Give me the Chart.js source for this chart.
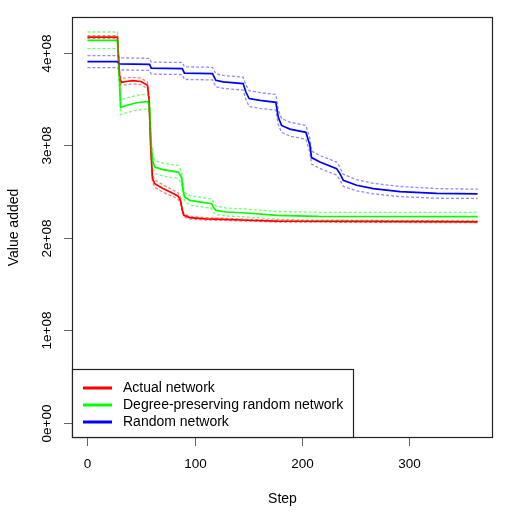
<!DOCTYPE html>
<html>
<head>
<meta charset="utf-8">
<script src="https://cdn.jsdelivr.net/npm/chart.js@4"></script>
<style>
  body { margin: 0; background: #fff; }
  #wrap { width: 514px; height: 522px; }
</style>
</head>
<body>
<div id="wrap"><canvas id="valueChart" width="514" height="522"></canvas></div>
<script>
// Series (value added, per step)
const actualSteps = [0, 28, 30, 31.5, 36, 42, 50, 56, 57.5, 59, 60.7, 62.8, 70, 80, 84.6, 86.8, 88.5, 90, 95.5, 110, 127, 150, 176, 250, 364];
const actualMean  = [4.17e8, 4.17e8, 3.75e8, 3.68e8, 3.69e8, 3.70e8, 3.69e8, 3.65e8, 3.50e8, 3.00e8, 2.64e8, 2.586e8, 2.535e8, 2.48e8, 2.45e8, 2.405e8, 2.30e8, 2.243e8, 2.218e8, 2.205e8, 2.20e8, 2.19e8, 2.18e8, 2.178e8, 2.173e8];
const actualUpper = [4.185e8, 4.185e8, 3.78e8, 3.72e8, 3.73e8, 3.735e8, 3.725e8, 3.685e8, 3.54e8, 3.04e8, 2.68e8, 2.626e8, 2.575e8, 2.515e8, 2.485e8, 2.44e8, 2.32e8, 2.26e8, 2.233e8, 2.218e8, 2.212e8, 2.20e8, 2.19e8, 2.188e8, 2.183e8];
const actualLower = [4.155e8, 4.155e8, 3.72e8, 3.645e8, 3.655e8, 3.665e8, 3.655e8, 3.615e8, 3.46e8, 2.96e8, 2.60e8, 2.546e8, 2.495e8, 2.445e8, 2.415e8, 2.37e8, 2.28e8, 2.226e8, 2.203e8, 2.192e8, 2.188e8, 2.18e8, 2.17e8, 2.168e8, 2.163e8];

const degreeSteps = [0, 28, 29.5, 31, 36, 46, 56.5, 58, 59.5, 60.7, 62.8, 70.6, 84.6, 87.7, 89.5, 90.8, 95.5, 115.8, 117.5, 119.8, 129.8, 148.5, 176.5, 215, 364];
const degreeMean  = [4.135e8, 4.135e8, 3.80e8, 3.41e8, 3.43e8, 3.46e8, 3.475e8, 3.40e8, 3.00e8, 2.838e8, 2.765e8, 2.737e8, 2.711e8, 2.657e8, 2.50e8, 2.441e8, 2.405e8, 2.369e8, 2.33e8, 2.297e8, 2.279e8, 2.268e8, 2.243e8, 2.232e8, 2.23e8];
const degreeUpper = [4.225e8, 4.225e8, 3.89e8, 3.49e8, 3.51e8, 3.54e8, 3.555e8, 3.48e8, 3.08e8, 2.91e8, 2.835e8, 2.807e8, 2.781e8, 2.727e8, 2.56e8, 2.491e8, 2.455e8, 2.419e8, 2.38e8, 2.342e8, 2.322e8, 2.31e8, 2.285e8, 2.276e8, 2.275e8];
const degreeLower = [4.045e8, 4.045e8, 3.71e8, 3.33e8, 3.35e8, 3.38e8, 3.395e8, 3.32e8, 2.92e8, 2.768e8, 2.695e8, 2.667e8, 2.641e8, 2.587e8, 2.44e8, 2.391e8, 2.355e8, 2.319e8, 2.28e8, 2.252e8, 2.236e8, 2.226e8, 2.201e8, 2.19e8, 2.188e8];

const randomSteps = [0, 28, 29.5, 58, 59.5, 88.5, 90.5, 116.7, 119.8, 126.6, 145.3, 147.8, 150.9, 160.9, 175.8, 178, 181.1, 188.9, 203.8, 207.6, 209.1, 216.9, 232.5, 235.6, 238.7, 251.2, 266.7, 291.6, 325.9, 364];
const randomMean  = [3.905e8, 3.905e8, 3.88e8, 3.875e8, 3.835e8, 3.83e8, 3.78e8, 3.775e8, 3.703e8, 3.685e8, 3.667e8, 3.576e8, 3.505e8, 3.485e8, 3.465e8, 3.306e8, 3.215e8, 3.175e8, 3.14e8, 3.00e8, 2.867e8, 2.82e8, 2.748e8, 2.694e8, 2.622e8, 2.568e8, 2.532e8, 2.50e8, 2.48e8, 2.475e8];
const randomUpper = [3.97e8, 3.97e8, 3.945e8, 3.94e8, 3.90e8, 3.895e8, 3.848e8, 3.843e8, 3.773e8, 3.755e8, 3.737e8, 3.656e8, 3.59e8, 3.57e8, 3.55e8, 3.386e8, 3.29e8, 3.25e8, 3.215e8, 3.075e8, 2.937e8, 2.89e8, 2.818e8, 2.762e8, 2.687e8, 2.628e8, 2.589e8, 2.555e8, 2.532e8, 2.525e8];
const randomLower = [3.84e8, 3.84e8, 3.815e8, 3.81e8, 3.77e8, 3.765e8, 3.712e8, 3.707e8, 3.633e8, 3.615e8, 3.597e8, 3.496e8, 3.42e8, 3.40e8, 3.38e8, 3.226e8, 3.14e8, 3.10e8, 3.065e8, 2.925e8, 2.797e8, 2.75e8, 2.678e8, 2.626e8, 2.557e8, 2.508e8, 2.475e8, 2.445e8, 2.428e8, 2.425e8];

const xTicks = [0, 100, 200, 300];
const yTicks = [0, 1e8, 2e8, 3e8, 4e8];
const yTickLabels = ['0e+00', '1e+08', '2e+08', '3e+08', '4e+08'];
const legendLabels = ['Actual network', 'Degree-preserving random network', 'Random network'];

const FONT = '"Liberation Sans", Arial, sans-serif';

function points(steps, values) {
    return steps.map((s, i) => ({ x: s, y: values[i] }));
}

function band(label, steps, values, color) {
    return {
        label: label,
        data: points(steps, values),
        borderColor: color,
        borderWidth: 1.3,
        borderDash: [3, 2],
        pointRadius: 0,
        fill: false,
        tension: 0
    };
}

function mean(label, steps, values, color) {
    return {
        label: label,
        data: points(steps, values),
        borderColor: color,
        borderWidth: 1.7,
        pointRadius: 0,
        fill: false,
        tension: 0
    };
}

// R-style frame, axes, titles and legend
const rStyle = {
    id: 'rStyle',
    afterDraw(chart) {
        const c = chart.ctx;
        const a = chart.chartArea;
        const xs = chart.scales.x;
        const ys = chart.scales.y;
        c.save();

        // frame
        c.strokeStyle = '#222';
        c.lineWidth = 1.2;
        c.strokeRect(a.left + 0.5, a.top + 0.5, a.right - a.left - 1, a.bottom - a.top - 1);

        // x axis ticks and labels
        c.strokeStyle = '#666';
        c.lineWidth = 1;
        c.fillStyle = '#000';
        c.font = '13.5px ' + FONT;
        c.textAlign = 'center';
        c.textBaseline = 'middle';
        xTicks.forEach(t => {
            const px = Math.round(xs.getPixelForValue(t)) + 0.5;
            c.beginPath();
            c.moveTo(px, a.bottom);
            c.lineTo(px, a.bottom + 8);
            c.stroke();
            c.fillText(String(t), px, 464);
        });

        // y axis ticks and rotated labels
        yTicks.forEach((t, i) => {
            const py = Math.round(ys.getPixelForValue(t)) + 0.5;
            c.beginPath();
            c.moveTo(a.left, py);
            c.lineTo(a.left - 8, py);
            c.stroke();
            c.save();
            c.translate(47, py);
            c.rotate(-Math.PI / 2);
            c.fillText(yTickLabels[i], 0, 0);
            c.restore();
        });

        // axis titles
        c.font = '14px ' + FONT;
        c.fillText('Step', (a.left + a.right) / 2, 499);
        c.save();
        c.translate(14, (a.top + a.bottom) / 2);
        c.rotate(-Math.PI / 2);
        c.fillText('Value added', 0, 0);
        c.restore();

        // legend
        const lx = a.left, ly = 369, lw = 281, lh = a.bottom - 369;
        c.fillStyle = '#fff';
        c.fillRect(lx, ly, lw, lh);
        c.strokeStyle = '#222';
        c.lineWidth = 1.2;
        c.strokeRect(lx + 0.5, ly + 0.5, lw, lh - 1);
        const colors = ['#ff0000', '#00ff00', '#0000ff'];
        const rows = [388, 405, 422];
        c.textAlign = 'left';
        legendLabels.forEach((lab, i) => {
            c.strokeStyle = colors[i];
            c.lineWidth = 3;
            c.beginPath();
            c.moveTo(83, rows[i]);
            c.lineTo(112, rows[i]);
            c.stroke();
            c.fillStyle = '#000';
            c.fillText(lab, 123, rows[i]);
        });

        c.restore();
    }
};

const ctx = document.getElementById('valueChart').getContext('2d');
const valueChart = new Chart(ctx, {
    type: 'line',
    data: {
        datasets: [
            band('Actual upper', actualSteps, actualUpper, 'rgba(255, 0, 0, 0.5)'),
            band('Actual lower', actualSteps, actualLower, 'rgba(255, 0, 0, 0.5)'),
            band('Degree upper', degreeSteps, degreeUpper, 'rgba(0, 255, 0, 0.55)'),
            band('Degree lower', degreeSteps, degreeLower, 'rgba(0, 255, 0, 0.55)'),
            band('Random upper', randomSteps, randomUpper, 'rgba(0, 0, 255, 0.45)'),
            band('Random lower', randomSteps, randomLower, 'rgba(0, 0, 255, 0.45)'),
            mean(legendLabels[2], randomSteps, randomMean, '#0000ff'),
            mean(legendLabels[1], degreeSteps, degreeMean, '#00ff00'),
            mean(legendLabels[0], actualSteps, actualMean, '#ff0000')
        ]
    },
    options: {
        responsive: false,
        animation: false,
        layout: {
            padding: { left: 72, top: 17, right: 21, bottom: 84 }
        },
        plugins: {
            legend: { display: false },
            tooltip: { enabled: false }
        },
        scales: {
            x: {
                type: 'linear',
                min: -14.4,
                max: 378.4,
                display: false
            },
            y: {
                min: -0.164e8,
                max: 4.387e8,
                display: false
            }
        }
    },
    plugins: [rStyle]
});
</script>
</body>
</html>
